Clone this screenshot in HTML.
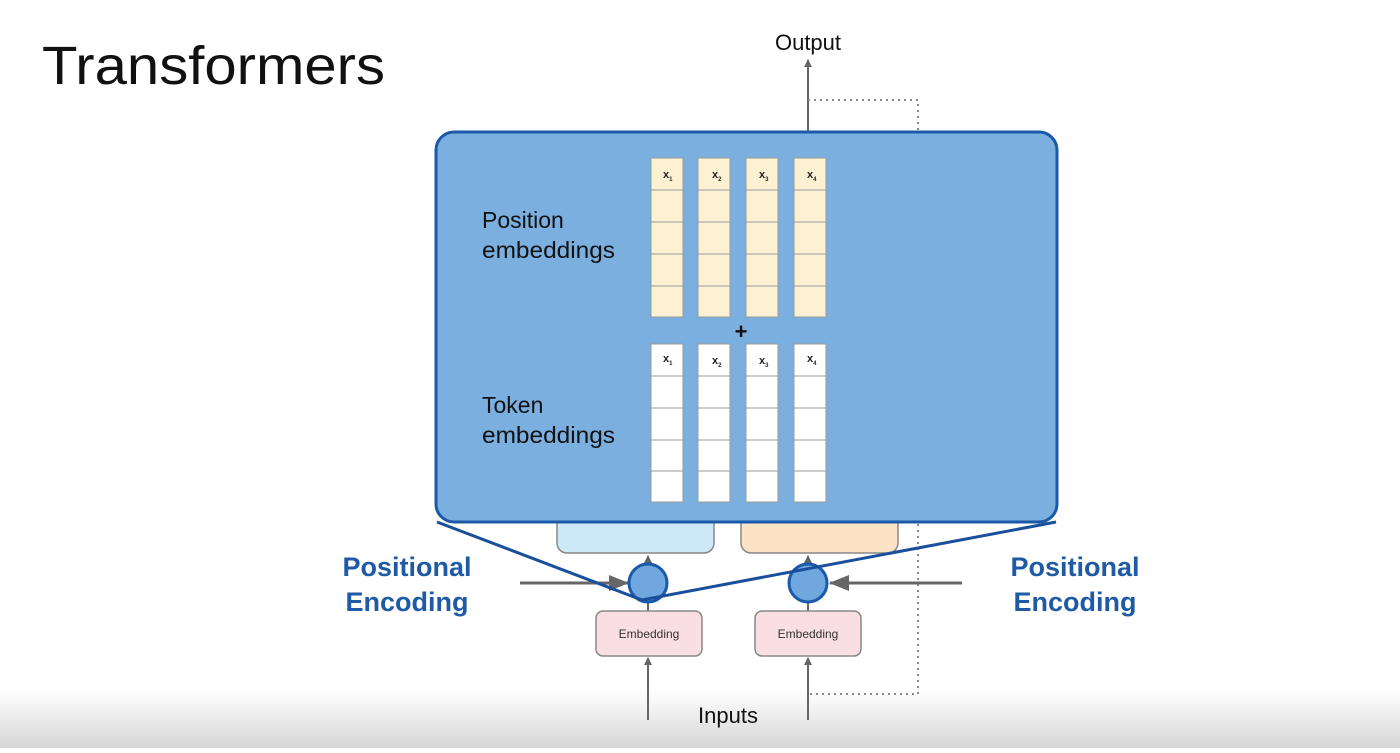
<!DOCTYPE html>
<html><head><style>
body{margin:0;width:1400px;height:748px;overflow:hidden;background:#fff;font-family:"Liberation Sans",sans-serif}
</style></head><body>
<svg width="1400" height="748" xmlns="http://www.w3.org/2000/svg">
<defs>
<linearGradient id="g" x1="0" y1="0" x2="0" y2="1"><stop offset="0" stop-color="#fff"/><stop offset="1" stop-color="#d6d6d6"/></linearGradient>
<marker id="a" markerWidth="8" markerHeight="8" refX="7" refY="4" orient="auto" markerUnits="userSpaceOnUse"><path d="M0,0 L8,4 L0,8z" fill="#666"/></marker>
<marker id="b" markerWidth="20" markerHeight="16" refX="19" refY="8" orient="auto" markerUnits="userSpaceOnUse"><path d="M0,0 L20,8 L0,16z" fill="#666"/></marker>
</defs>
<rect x="0" y="690" width="1400" height="58" fill="url(#g)"/>
<text x="42" y="84" font-size="54" fill="#111" textLength="343" lengthAdjust="spacingAndGlyphs">Transformers</text>
<text x="808" y="50" font-size="22" text-anchor="middle" fill="#111">Output</text>
<line x1="808" y1="132" x2="808" y2="60" stroke="#666" stroke-width="2" marker-end="url(#a)"/>
<path d="M808,100 H918 V694 H808" fill="none" stroke="#888" stroke-width="2" stroke-dasharray="2,4"/>
<rect x="557" y="500" width="157" height="53" rx="10" fill="#cde9f8" stroke="#888" stroke-width="1.5"/>
<rect x="741" y="500" width="157" height="53" rx="10" fill="#fde3c6" stroke="#888" stroke-width="1.5"/>
<rect x="436" y="132" width="621" height="390" rx="18" fill="#7aafdf" stroke="#1a5aa8" stroke-width="3"/>
<text x="482" y="228" font-size="23" fill="#111">Position</text>
<text x="482" y="258" font-size="23" fill="#111" textLength="133" lengthAdjust="spacingAndGlyphs">embeddings</text>
<text x="482" y="413" font-size="23" fill="#111">Token</text>
<text x="482" y="443" font-size="23" fill="#111" textLength="133" lengthAdjust="spacingAndGlyphs">embeddings</text>
<text x="741" y="339" font-size="22" font-weight="bold" text-anchor="middle" fill="#111">+</text>
<g stroke="#999" stroke-width="1">
<g fill="#fdf1d4">
<rect x="651" y="158" width="32" height="159"/><rect x="698" y="158" width="32" height="159"/><rect x="746" y="158" width="32" height="159"/><rect x="794" y="158" width="32" height="159"/>
</g>
<g fill="#fff">
<rect x="651" y="344" width="32" height="158"/><rect x="698" y="344" width="32" height="158"/><rect x="746" y="344" width="32" height="158"/><rect x="794" y="344" width="32" height="158"/>
</g>
<path d="M651,190H683M651,222H683M651,254H683M651,286H683M698,190H730M698,222H730M698,254H730M698,286H730M746,190H778M746,222H778M746,254H778M746,286H778M794,190H826M794,222H826M794,254H826M794,286H826"/>
<path d="M651,376H683M651,408H683M651,440H683M651,471H683M698,376H730M698,408H730M698,440H730M698,471H730M746,376H778M746,408H778M746,440H778M746,471H778M794,376H826M794,408H826M794,440H826M794,471H826"/>
</g>
<g font-size="11" fill="#222" font-weight="bold">
<text x="663" y="178">x<tspan font-size="6" dy="3">1</tspan></text><text x="712" y="178">x<tspan font-size="6" dy="3">2</tspan></text><text x="759" y="178">x<tspan font-size="6" dy="3">3</tspan></text><text x="807" y="178">x<tspan font-size="6" dy="3">4</tspan></text>
<text x="663" y="362">x<tspan font-size="6" dy="3">1</tspan></text><text x="712" y="364">x<tspan font-size="6" dy="3">2</tspan></text><text x="759" y="364">x<tspan font-size="6" dy="3">3</tspan></text><text x="807" y="362">x<tspan font-size="6" dy="3">4</tspan></text>
</g>
<line x1="648" y1="611" x2="648" y2="602" stroke="#666" stroke-width="2"/>
<line x1="808" y1="611" x2="808" y2="602" stroke="#666" stroke-width="2"/>
<line x1="648" y1="564" x2="648" y2="556" stroke="#666" stroke-width="2" marker-end="url(#a)"/>
<line x1="808" y1="564" x2="808" y2="556" stroke="#666" stroke-width="2" marker-end="url(#a)"/>
<line x1="520" y1="583" x2="628" y2="583" stroke="#666" stroke-width="3" marker-end="url(#b)"/>
<line x1="962" y1="583" x2="830" y2="583" stroke="#666" stroke-width="3" marker-end="url(#b)"/>
<circle cx="648" cy="583" r="19" fill="#6fa7de" stroke="#1a5aa8" stroke-width="3"/>
<circle cx="808" cy="583" r="19" fill="#6fa7de" stroke="#1a5aa8" stroke-width="3"/>
<polyline points="437,522 642,600 1056,522" fill="none" stroke="#1a4f9c" stroke-width="3"/>
<rect x="596" y="611" width="106" height="45" rx="7" fill="#f9dfe3" stroke="#888" stroke-width="1.5"/>
<rect x="755" y="611" width="106" height="45" rx="7" fill="#f9dfe3" stroke="#888" stroke-width="1.5"/>
<text x="649" y="638" font-size="12" text-anchor="middle" fill="#333">Embedding</text>
<text x="808" y="638" font-size="12" text-anchor="middle" fill="#333">Embedding</text>
<line x1="648" y1="720" x2="648" y2="658" stroke="#666" stroke-width="2" marker-end="url(#a)"/>
<line x1="808" y1="720" x2="808" y2="658" stroke="#666" stroke-width="2" marker-end="url(#a)"/>
<text x="728" y="723" font-size="22" text-anchor="middle" fill="#111">Inputs</text>
<g font-size="27" font-weight="bold" fill="#1f5aa6" text-anchor="middle">
<text x="407" y="576">Positional</text><text x="407" y="611">Encoding</text>
<text x="1075" y="576">Positional</text><text x="1075" y="611">Encoding</text>
</g>
</svg>
</body></html>
